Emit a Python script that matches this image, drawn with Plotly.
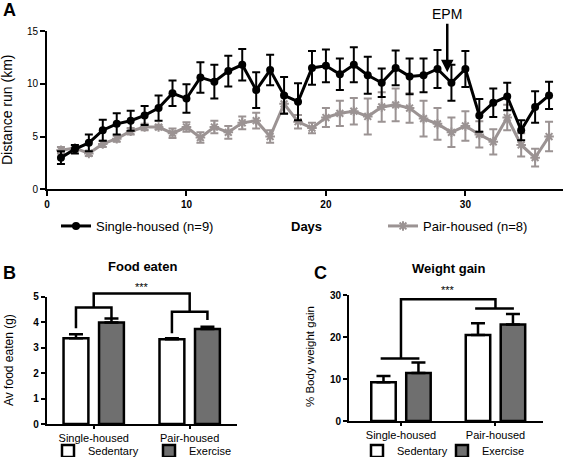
import plotly.graph_objects as go

W, H = 565, 457
FONT = "Liberation Sans, Arial, sans-serif"

# ---------------- data ----------------
days = list(range(1, 37))
single_mean = [3.0, 3.8, 4.4, 5.6, 6.2, 6.5, 7.0, 7.7, 9.1, 8.6,
               10.6, 10.2, 11.2, 11.8, 9.4, 11.3, 8.9, 8.3, 11.5, 11.7,
               10.9, 11.8, 10.8, 10.1, 11.5, 10.7, 10.8, 11.4, 10.1, 11.4,
               7.0, 8.2, 8.8, 5.6, 7.8, 8.9]
single_sem = [0.6, 0.4, 0.8, 1.0, 1.0, 0.95, 0.9, 1.2, 1.2, 1.35,
              1.45, 1.6, 1.45, 1.5, 1.7, 1.45, 1.75, 1.75, 1.6, 1.55,
              1.5, 1.65, 1.75, 1.35, 1.65, 1.7, 1.6, 1.8, 1.7, 1.7,
              1.55, 1.35, 1.3, 0.95, 1.5, 1.3]
pair_mean = [3.7, 3.9, 3.4, 4.3, 4.8, 5.5, 5.9, 5.9, 5.3, 5.9,
             4.9, 5.9, 5.4, 6.3, 6.5, 5.0, 8.1, 6.4, 5.8, 6.8,
             7.2, 7.4, 6.9, 7.8, 8.0, 7.7, 6.7, 6.2, 5.4, 6.0,
             5.2, 4.5, 6.8, 4.2, 3.0, 5.0]
pair_sem = [0.3, 0.25, 0.25, 0.3, 0.3, 0.3, 0.3, 0.2, 0.45, 0.45,
            0.5, 0.6, 0.6, 0.6, 0.75, 0.6, 0.9, 0.65, 0.5, 0.9,
            1.2, 1.25, 1.7, 1.4, 1.55, 1.4, 1.7, 1.5, 1.4, 1.4,
            1.25, 1.2, 1.2, 1.1, 0.85, 1.4]
epm_day = 28.7
epm_value = 11.1

groups = ["Single-housed", "Pair-housed"]
food_sed = [3.37, 3.33]
food_sed_err = [0.16, 0.04]
food_ex = [3.99, 3.73]
food_ex_err = [0.15, 0.09]
wt_sed = [9.2, 20.5]
wt_sed_err = [1.5, 2.8]
wt_ex = [11.4, 23.0]
wt_ex_err = [2.5, 2.5]

# significance bracket levels (data units)
food_leg_bottom = [[3.76, 4.15], [3.56, 4.08]]
food_group_y = [4.58, 4.41]
food_top_y = 5.13
food_star_y = 5.38
wt_group_y = [14.9, 26.8]
wt_top_y = 29.0
wt_star_y = 31.2

# ---------------- layout geometry (pixels) ----------------
A_X, A_Y = (47, 563), (189.3, 31)
B_X, B_Y = (46.7, 236.7), (424, 296.7)
C_X, C_Y = (349, 543), (421, 295)
A_XR, A_YR = [0, 37], [0, 15]
B_XR, B_YR = [-0.49, 1.49], [0, 5]
C_XR, C_YR = [-0.55, 1.503], [0, 30]

BARGAP = 0.26
BARGROUPGAP = 0.30
off = (1 - BARGAP) / 4

GRAY = "#9b9393"
DARK = "#6f6f6f"


def xdom(px):
    return [px[0] / W, px[1] / W]


def ydom(px):
    return [1 - px[0] / H, 1 - px[1] / H]


def mapx(v, rng, dom_px):
    d = xdom(dom_px)
    return d[0] + (v - rng[0]) / (rng[1] - rng[0]) * (d[1] - d[0])


def mapy(v, rng, dom_px):
    d = ydom(dom_px)
    return d[0] + (v - rng[0]) / (rng[1] - rng[0]) * (d[1] - d[0])


fig = go.Figure()

# ---------------- panel A ----------------
fig.add_trace(go.Scatter(
    x=days, y=pair_mean, mode="lines+markers", name="Pair-housed (n=8)",
    line=dict(color=GRAY, width=3),
    marker=dict(symbol="asterisk-open", size=8, color=GRAY, line=dict(color=GRAY, width=2)),
    error_y=dict(type="data", array=pair_sem, color=GRAY, thickness=2, width=4),
    xaxis="x", yaxis="y", legend="legend2", showlegend=True, cliponaxis=False))
fig.add_trace(go.Scatter(
    x=days, y=single_mean, mode="lines+markers", name="Single-housed (n=9)",
    line=dict(color="black", width=3),
    marker=dict(symbol="circle", size=8, color="black"),
    error_y=dict(type="data", array=single_sem, color="black", thickness=2, width=4),
    xaxis="x", yaxis="y", legend="legend", showlegend=True, cliponaxis=False))

# ---------------- panels B and C ----------------
bar_line = dict(color="black", width=2.5)
for xa, ya, sed, sed_e, ex, ex_e, leg in [
        ("x2", "y2", food_sed, food_sed_err, food_ex, food_ex_err, "legend3"),
        ("x3", "y3", wt_sed, wt_sed_err, wt_ex, wt_ex_err, "legend4")]:
    fig.add_trace(go.Bar(
        x=[0, 1], y=sed, name="Sedentary", offsetgroup="sed",
        marker=dict(color="white", line=bar_line),
        error_y=dict(type="data", array=sed_e, arrayminus=[0, 0], symmetric=False,
                     color="black", thickness=2.5, width=7),
        xaxis=xa, yaxis=ya, legend=leg, showlegend=True))
    fig.add_trace(go.Bar(
        x=[0, 1], y=ex, name="Exercise", offsetgroup="ex",
        marker=dict(color=DARK, line=bar_line),
        error_y=dict(type="data", array=ex_e, arrayminus=[0, 0], symmetric=False,
                     color="black", thickness=2.5, width=7),
        xaxis=xa, yaxis=ya, legend=leg, showlegend=True))

# ---------------- axes ----------------
axis_common = dict(showline=True, linecolor="black", linewidth=2, ticks="outside",
                   tickcolor="black", tickwidth=2, ticklen=5, showgrid=False,
                   zeroline=False, fixedrange=True, automargin=False)
bold10 = dict(family=FONT, size=10, color="black", weight="bold")
reg11 = dict(family=FONT, size=11, color="black")

layout = dict(
    width=W, height=H, autosize=False,
    margin=dict(l=0, r=0, t=0, b=0, pad=0, autoexpand=False),
    paper_bgcolor="white", plot_bgcolor="white",
    font=dict(family=FONT, color="black"),
    showlegend=True,
    barmode="group", bargap=BARGAP, bargroupgap=BARGROUPGAP,
    xaxis=dict(axis_common, domain=xdom(A_X), range=A_XR, tickvals=[0, 10, 20, 30],
               tickfont=bold10, anchor="y"),
    yaxis=dict(axis_common, domain=ydom(A_Y), range=A_YR, tickvals=[0, 5, 10, 15],
               tickfont=dict(family=FONT, size=10, color="black"), anchor="x"),
    xaxis2=dict(axis_common, domain=xdom(B_X), range=B_XR, tickvals=[0, 1],
                ticktext=groups, tickfont=reg11, ticklen=3, anchor="y2"),
    yaxis2=dict(axis_common, domain=ydom(B_Y), range=B_YR, tickvals=[0, 1, 2, 3, 4, 5],
                tickfont=bold10, ticklen=4, anchor="x2"),
    xaxis3=dict(axis_common, domain=xdom(C_X), range=C_XR, tickvals=[0, 1],
                ticktext=groups, tickfont=reg11, ticklen=3, anchor="y3"),
    yaxis3=dict(axis_common, domain=ydom(C_Y), range=C_YR, tickvals=[0, 10, 20, 30],
                tickfont=bold10, ticklen=4, anchor="x3"),
    legend=dict(x=56 / W, xanchor="left", y=1 - 226 / H, yanchor="middle",
                orientation="h", font=dict(family=FONT, size=13), bgcolor="rgba(0,0,0,0)"),
    legend2=dict(x=383 / W, xanchor="left", y=1 - 226 / H, yanchor="middle",
                 orientation="h", font=dict(family=FONT, size=13), bgcolor="rgba(0,0,0,0)"),
    legend3=dict(x=48 / W, xanchor="left", y=1 - 451 / H, yanchor="middle",
                 orientation="h", entrywidth=56, entrywidthmode="pixels",
                 font=dict(family=FONT, size=11), bgcolor="rgba(0,0,0,0)"),
    legend4=dict(x=357 / W, xanchor="left", y=1 - 451 / H, yanchor="middle",
                 orientation="h", entrywidth=40, entrywidthmode="pixels",
                 font=dict(family=FONT, size=11), bgcolor="rgba(0,0,0,0)"),
)
fig.update_layout(**layout)

# ---------------- annotations ----------------
ann = []


def txt(x, y, s, size, bold=False, angle=0, xanchor="center", yanchor="middle"):
    f = dict(family=FONT, size=size, color="black")
    if bold:
        f["weight"] = "bold"
    ann.append(dict(x=x, y=y, xref="paper", yref="paper", text=s, showarrow=False,
                    font=f, textangle=angle, xanchor=xanchor, yanchor=yanchor,
                    borderpad=0))


txt(9 / W, 1 - 10 / H, "A", 18, bold=True)
txt(7 / W, 1 - 110 / H, "Distance run (km)", 14, angle=-90)
txt(306 / W, 1 - 226 / H, "Days", 13, bold=True)
ann.append(dict(x=epm_day, y=epm_value, xref="x", yref="y", text="EPM",
                showarrow=True, ax=0, ay=-58, arrowhead=2, arrowsize=1,
                arrowwidth=2.5, arrowcolor="black",
                font=dict(family=FONT, size=14, color="black")))

txt(9.5 / W, 1 - 273 / H, "B", 18, bold=True)
txt(142 / W, 1 - 266 / H, "Food eaten", 13, bold=True)
txt(9 / W, 1 - 360 / H, "Av food eaten (g)", 12, angle=-90)
txt(mapx(0.5, B_XR, B_X), mapy(food_star_y, B_YR, B_Y), "***", 11)

txt(320 / W, 1 - 273 / H, "C", 18, bold=True)
txt(448 / W, 1 - 268 / H, "Weight gain", 13, bold=True)
txt(310 / W, 1 - 357 / H, "% Body weight gain", 11.5, angle=-90)
txt(mapx(0.5, C_XR, C_X), mapy(wt_star_y, C_YR, C_Y), "***", 11)

fig.update_layout(annotations=ann)

# ---------------- significance brackets ----------------
shapes = []
line_style = dict(color="black", width=2.5)


def path(points, rx, ry, dx, dy):
    pts = [(mapx(a, rx, dx), mapy(b, ry, dy)) for a, b in points]
    d = "M " + " L ".join(f"{a:.5f},{b:.5f}" for a, b in pts)
    shapes.append(dict(type="path", path=d, xref="paper", yref="paper", line=line_style))


for gi in range(2):
    gy = food_group_y[gi]
    path([(gi - off, food_leg_bottom[gi][0]), (gi - off, gy), (gi + off, gy),
          (gi + off, food_leg_bottom[gi][1])], B_XR, B_YR, B_X, B_Y)
path([(0, food_group_y[0]), (0, food_top_y), (1, food_top_y), (1, food_group_y[1])],
     B_XR, B_YR, B_X, B_Y)

for gi in range(2):
    gy = wt_group_y[gi]
    path([(gi - off - 0.03, gy), (gi + off + 0.01, gy)], C_XR, C_YR, C_X, C_Y)
path([(0, wt_group_y[0]), (0, wt_top_y), (1, wt_top_y), (1, wt_group_y[1])],
     C_XR, C_YR, C_X, C_Y)

fig.update_layout(shapes=shapes)

fig.write_html(
    "out.html",
    config={"displayModeBar": False, "staticPlot": True},
    post_script="document.body.style.margin='0px';document.body.style.padding='0px';"
                "document.body.style.overflow='hidden';",
)
